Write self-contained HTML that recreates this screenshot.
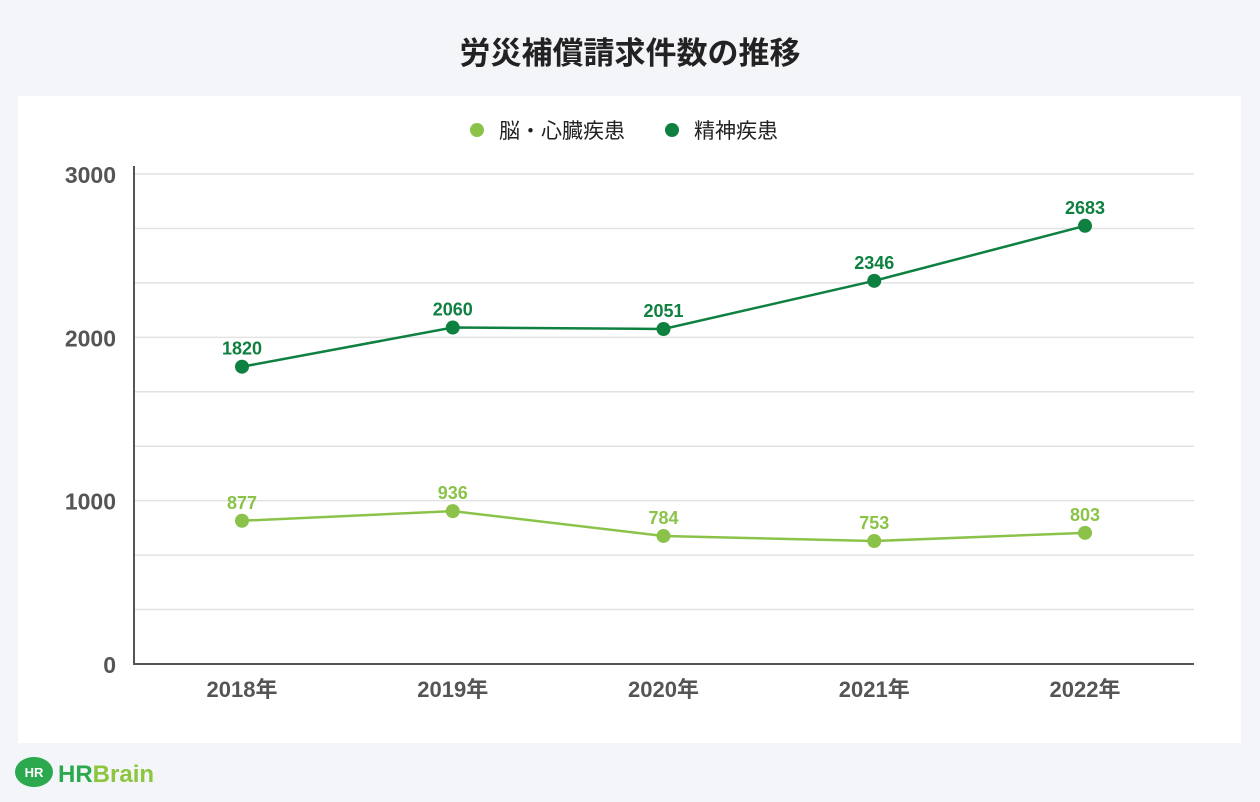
<!DOCTYPE html>
<html><head><meta charset="utf-8"><style>
body{margin:0;width:1260px;height:802px;background:#f4f5f9;font-family:"Liberation Sans","Noto Sans CJK JP",sans-serif;position:relative;overflow:hidden}
.title{position:absolute;top:28px;left:0;width:1260px;text-align:center;font-size:31px;font-weight:bold;color:#222}
.card{position:absolute;left:18px;top:96px;width:1223px;height:647px;background:#fff}
svg{position:absolute;left:0;top:0}
</style></head><body>
<div class="title">労災補償請求件数の推移</div>
<div class="card"></div>
<svg id="c" width="1260" height="802">
<g id="logo">
<ellipse cx="34" cy="772" rx="19" ry="15" fill="#2ca94f"/>
<text x="34" y="777" font-size="13" font-weight="bold" fill="#fff" text-anchor="middle" font-family="Liberation Sans,sans-serif">HR</text>
<text x="58" y="782" font-size="24" font-weight="bold" fill="#2ca94f" font-family="Liberation Sans,sans-serif">HR<tspan fill="#8cc63f">Brain</tspan></text>
</g>
</svg>
<script>
const categories=["2018年","2019年","2020年","2021年","2022年"];
const brainHeart=[877,936,784,753,803];
const mental=[1820,2060,2051,2346,2683];
const yTicks=[0,1000,2000,3000];
const legendLabels=["脳・心臓疾患","精神疾患"];
const NS="http://www.w3.org/2000/svg";
const svg=document.getElementById('c');
const L=134,R=1194,T=174,B=664,maxY=3000;
const x=i=>242+i*(1085-242)/(categories.length-1);
const y=v=>B-(v/maxY)*(B-T);
function mk(t,a){const e=document.createElementNS(NS,t);for(const k in a)e.setAttribute(k,a[k]);svg.appendChild(e);return e;}
for(let k=0;k<=9;k++){const v=k*maxY/9;const g=mk('line',{x1:L,x2:R,y1:y(v),y2:y(v),stroke:'#e2e2e2','stroke-width':1.5});

}
yTicks.forEach(v=>{const t=mk('text',{x:116,y:y(v)+9,'font-size':23,'font-weight':'bold',fill:'#555','text-anchor':'end'});t.textContent=v;

});
const ax=mk('path',{d:`M${L} ${T-8}V${B}H${R}`,stroke:'#555','stroke-width':2,fill:'none'});


categories.forEach((c,i)=>{const t=mk('text',{x:x(i),y:697,'font-size':22,'font-weight':'bold',fill:'#555','text-anchor':'middle'});t.textContent=c;

});
function series(data,color,name){
const p=mk('polyline',{points:data.map((v,i)=>x(i)+','+y(v)).join(' '),fill:'none',stroke:color,'stroke-width':2.5});


data.forEach((v,i)=>{const c=mk('circle',{cx:x(i),cy:y(v),r:7,fill:color});


const t=mk('text',{x:x(i),y:y(v)-12,'font-size':18,'font-weight':'bold',fill:color,'text-anchor':'middle'});t.textContent=v;

});}
series(brainHeart,'#8bc34a','brain-heart');
series(mental,'#0e8040','mental');
[[477,'#8bc34a',0],[672,'#0e8040',1]].forEach(([lx,col,i])=>{
const c=mk('circle',{cx:lx,cy:130,r:7,fill:col});


const t=mk('text',{x:lx+22,y:138,'font-size':21,fill:'#222'});t.textContent=legendLabels[i];

});
</script>
</body></html>
